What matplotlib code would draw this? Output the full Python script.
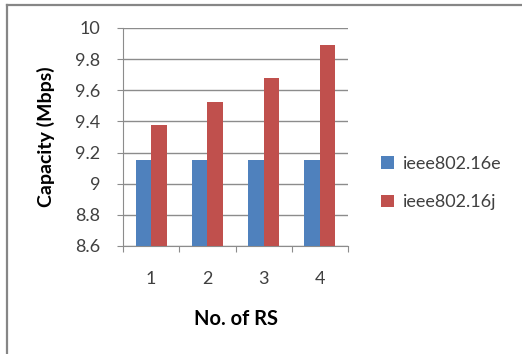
#!/usr/bin/env python
import matplotlib
matplotlib.use('Agg')
import matplotlib.pyplot as plt
from matplotlib.lines import Line2D
import numpy as np

# --------------------------------------- Data -------------------------------------
rs_counts = ['1', '2', '3', '4']
series_names = ['ieee802.16e', 'ieee802.16j']
cap_16e = [9.15, 9.15, 9.15, 9.15]
cap_16j = [9.375, 9.527, 9.682, 9.892]
y_ticks = [8.6, 8.8, 9.0, 9.2, 9.4, 9.6, 9.8, 10.0]
y_tick_labels = ['8.6', '8.8', '9', '9.2', '9.4', '9.6', '9.8', '10']

BLUE = '#4F81BD'
RED = '#C0504D'
GRID = '#8C8C8C'
TEXT = '#404040'

plt.rcParams['font.family'] = ['Lato', 'DejaVu Sans']

W, H = 522, 354
fig = plt.figure(figsize=(W / 100, H / 100), dpi=100)
ax = fig.add_axes([123 / W, 108 / H, 225 / W, 218 / H])

# --------------------------------------- Bars -------------------------------------
x = np.arange(1, len(rs_counts) + 1)
bw = 0.275
ax.bar(x - bw / 2, np.array(cap_16e) - 8.6, bw, bottom=8.6, color=BLUE, label=series_names[0], zorder=3)
ax.bar(x + bw / 2, np.array(cap_16j) - 8.6, bw, bottom=8.6, color=RED, label=series_names[1], zorder=3)

ax.set_xlim(0.5, len(rs_counts) + 0.5)
ax.set_ylim(8.6, 10.0)

# y axis with gridlines
ax.set_yticks(y_ticks)
ax.set_yticklabels(y_tick_labels)
ax.yaxis.grid(True, color=GRID, linewidth=1.0, zorder=0)
ax.tick_params(axis='y', length=4.5, width=0.8, color=GRID, pad=12, labelsize=13, labelcolor=TEXT)

# x axis: ticks on category boundaries, labels at centers
ax.set_xticks(np.arange(0.5, len(rs_counts) + 1, 1.0))
ax.set_xticklabels([])
ax.tick_params(axis='x', which='major', length=4, width=0.8, color=GRID, direction='out')
ax.set_xticks(x, minor=True)
ax.set_xticklabels(rs_counts, minor=True)
ax.tick_params(axis='x', which='minor', length=0, pad=18, labelsize=13, labelcolor=TEXT)

for s in ['top', 'right']:
    ax.spines[s].set_visible(False)
for s in ['left', 'bottom']:
    ax.spines[s].set_color(GRID)
    ax.spines[s].set_linewidth(0.8)

ax.set_xlabel('No. of RS', fontsize=14.5, fontweight='bold', color='#000000')
ax.set_ylabel('Capacity (Mbps)', fontsize=14, fontweight='bold', color='#000000')
ax.yaxis.set_label_coords(-(123 - 46) / 225, 0.5)
ax.xaxis.set_label_coords(0.5, -(319 - 246) / 218)
ax.xaxis.label.set_va('center')
ax.yaxis.label.set_va('center')

# --------------------------------------- Legend -------------------------------------
fig.legend(loc='center left', bbox_to_anchor=(381 / W, 1 - 183 / H), frameon=False,
           borderpad=0, borderaxespad=0, handlelength=0.7, handleheight=0.7,
           handletextpad=0.5, labelspacing=1.25, prop={'size': 13},
           labelcolor=TEXT)

# outer chart frame
fig.add_artist(Line2D([7 / W, 7 / W], [0, 1 - 4.5 / H], transform=fig.transFigure,
                      color='#868686', linewidth=1.6))
fig.add_artist(Line2D([7 / W, 1], [1 - 4.5 / H, 1 - 4.5 / H], transform=fig.transFigure,
                      color='#868686', linewidth=1.6))

fig.savefig('out.png', dpi=100, facecolor='white')
